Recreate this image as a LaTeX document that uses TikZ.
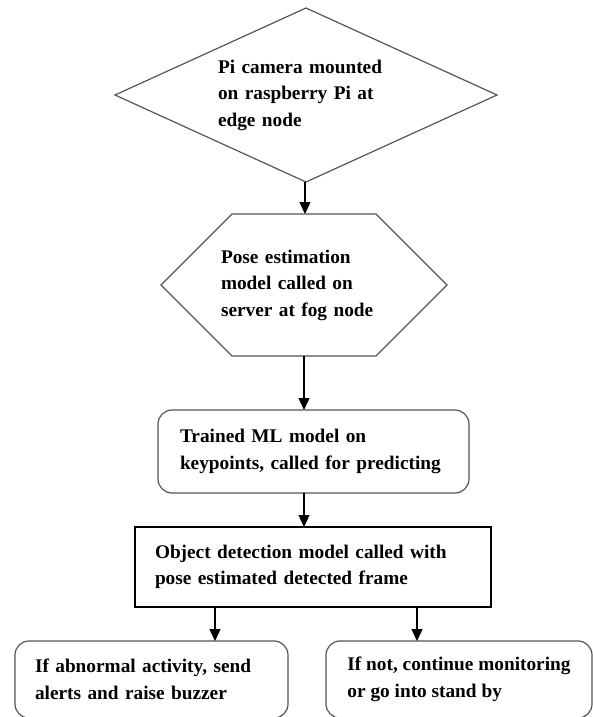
\documentclass[tikz,border=0pt]{standalone}
\usepackage{fontspec}
\setmainfont{Liberation Serif}
\usetikzlibrary{arrows.meta}
\definecolor{edgegray}{HTML}{555555}
\begin{document}
\begin{tikzpicture}[x=1pt,y=-1pt,
  every node/.style={outer sep=0pt, inner sep=0pt, font=\bfseries\fontsize{19.3}{26.5}\selectfont},
  grayline/.style={draw=edgegray, line width=1.2pt},
  blackline/.style={draw=black, line width=1.2pt},
  roundbox/.style={grayline, rounded corners=14pt},
  arr/.style={-{Triangle[width=11pt,length=12pt]}, line width=1.3pt, black}
]
\useasboundingbox (0,0) rectangle (593,717);
\clip (0,0) rectangle (593,717);

% diamond
\node[minimum width=382pt, minimum height=174pt, text width=176pt, align=left] (d) at (306,95)
  {Pi camera mounted\\on raspberry Pi at\\edge node};
\draw[grayline] (d.north) -- (d.east) -- (d.south) -- (d.west) -- cycle;

% hexagon
\node[minimum width=286pt, minimum height=142pt, text width=166pt, align=left] (hx) at (304,285)
  {Pose estimation\\model called on\\server at fog node};
\draw[grayline] (hx.west) -- ([xshift=71pt]hx.north west) -- ([xshift=-71pt]hx.north east)
  -- (hx.east) -- ([xshift=-71pt]hx.south east) -- ([xshift=71pt]hx.south west) -- cycle;

% rounded box
\node[roundbox, minimum width=311pt, minimum height=83pt, text width=267pt, align=left] (rb) at (313.5,451.5)
  {Trained ML model on\\keypoints, called for predicting};

% rectangle
\node[blackline, minimum width=356pt, minimum height=80pt, text width=316pt, align=left] (rc) at (313,567)
  {Object detection model called with\\pose estimated detected frame};

% bottom boxes
\node[roundbox, minimum width=273pt, minimum height=77pt, text width=233pt, align=left] (bl) at (151.5,679.5)
  {If abnormal activity, send\\alerts and raise buzzer};
\node[roundbox, minimum width=266pt, minimum height=77pt, align=left] (br) at (459,679.5)
  {If not, continue monitoring\\or go into stand by};

% connectors
\draw[arr] ([xshift=-1pt]d.south) -- ([xshift=-1pt]d.south |- hx.north);
\draw[arr] (hx.south) -- (hx.south |- rb.north);
\draw[arr] (hx.south |- rb.south) -- (hx.south |- rc.north);
\draw[arr] ([xshift=-98pt]rc.south) -- ([xshift=-98pt]rc.south |- bl.north);
\draw[arr] ([xshift=104pt]rc.south) -- ([xshift=104pt]rc.south |- br.north);
\end{tikzpicture}
\end{document}
